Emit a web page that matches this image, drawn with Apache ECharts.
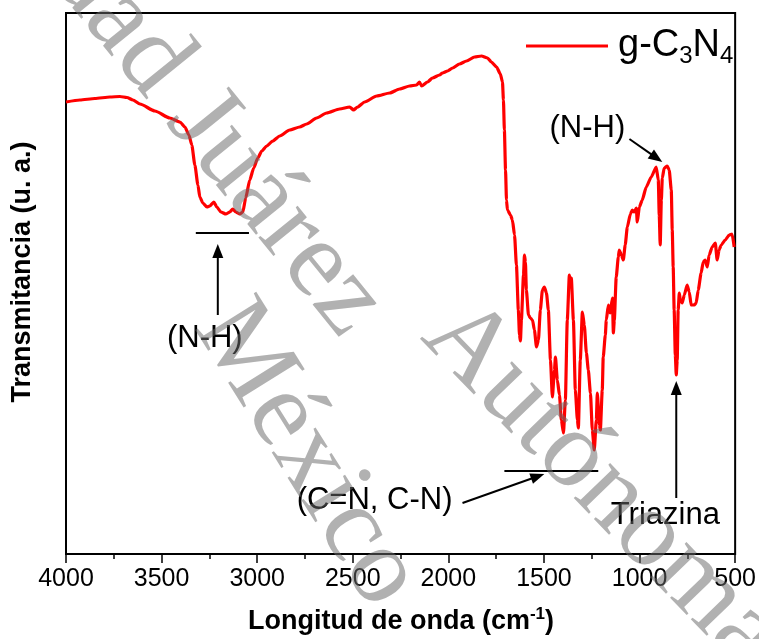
<!DOCTYPE html>
<html>
<head>
<meta charset="utf-8">
<script src="https://cdn.jsdelivr.net/npm/echarts@6/dist/echarts.min.js"></script>
<style>
  html, body { margin: 0; padding: 0; background: #fff; }
  #chart { width: 759px; height: 639px; }
</style>
</head>
<body>
<div id="chart"></div>
<script>
// FTIR spectrum of g-C3N4: wavenumber (cm-1) and transmittance (arbitrary units)
const wavenumber = [
  4000, 3927, 3849, 3770, 3718, 3681, 3650, 3613, 3535, 3457,
  3404, 3378, 3357, 3342, 3326, 3310, 3300, 3284, 3263, 3248,
  3227, 3211, 3190, 3164, 3143, 3128, 3112, 3091, 3075, 3060,
  3039, 3018, 2997, 2976, 2950, 2919, 2882, 2830, 2778, 2741,
  2689, 2637, 2569, 2516, 2496, 2475, 2438, 2375, 2307, 2255,
  2203, 2166, 2151, 2140, 2109, 2083, 2046, 2031, 2004, 1978,
  1942, 1905, 1863, 1827, 1795, 1775, 1748, 1728, 1717, 1712,
  1707, 1701, 1696, 1691, 1675, 1665, 1654, 1644, 1634, 1628,
  1623, 1618, 1607, 1602, 1597, 1592, 1581, 1571, 1560, 1550,
  1539, 1529, 1519, 1508, 1498, 1487, 1477, 1466, 1456, 1445,
  1440, 1430, 1419, 1409, 1398, 1388, 1378, 1367, 1362, 1357,
  1346, 1336, 1325, 1320, 1310, 1299, 1289, 1278, 1268, 1257,
  1247, 1237, 1226, 1221, 1210, 1205, 1195, 1190, 1179, 1174,
  1163, 1158, 1153, 1142, 1137, 1132, 1122, 1111, 1106, 1095,
  1085, 1075, 1064, 1048, 1038, 1028, 1017, 1012, 1001, 986,
  965, 939, 913, 902, 897, 892, 886, 881, 871, 855,
  845, 834, 829, 824, 819, 813, 808, 803, 798, 792,
  787, 777, 766, 751, 740, 730, 714, 704, 693, 678,
  667, 657, 646, 636, 620, 604, 594, 584, 573, 552,
  531, 516, 505
];
const transmittance = [
  452, 454, 455.5, 457, 457.5, 456.5, 454, 450, 443, 436,
  432, 427, 419, 409, 389, 369, 357, 351, 347, 348,
  352, 347, 342, 340, 342, 345, 342, 340, 342, 356,
  374, 386, 396, 403, 408, 413, 418, 424, 427, 430,
  436, 441, 445, 447, 444, 447, 452, 458, 461, 465,
  468, 469, 472, 468, 472, 476, 479, 481, 483, 486,
  490, 493, 497, 498, 496, 492, 487, 480, 472, 454,
  424, 384, 354, 344, 339, 334, 319, 289, 244, 219,
  213, 234, 279, 299, 292, 264, 239, 236, 234, 224,
  207, 214, 244, 264, 267, 261, 244, 194, 157, 184,
  197, 174, 159, 134, 121, 154, 234, 279, 272, 276,
  234, 164, 134, 126, 194, 242, 229, 201, 184, 161,
  124, 104, 134, 161, 129, 124, 164, 197, 219, 234,
  249, 244, 241, 256, 221, 234, 277, 297, 304, 299,
  294, 309, 327, 340, 344, 342, 346, 332, 347, 354,
  367, 377, 387, 374, 339, 309, 354, 376, 386, 388,
  384, 364, 324, 287, 244, 199, 179, 194, 244, 261,
  254, 251, 259, 269, 262, 249, 249, 251, 264, 281,
  292, 294, 287, 299, 307, 311, 294, 304, 309, 314,
  319, 320, 307
];
const xTickValues = [4000, 3500, 3000, 2500, 2000, 1500, 1000, 500];
const seriesName = 'g-C3N4';

// Band assignments (anchors in wavenumber / transmittance units)
const bandBars = [
  [[3321, 321], [3043, 321]],
  [[1707, 83], [1216, 83]]
];
const bandArrows = [
  { from: [3206, 239], to: [3206, 310] },
  { from: [1053, 415], to: [881, 392] },
  { from: [1926, 51], to: [1498, 80] },
  { from: [808, 56], to: [808, 173] }
];
const bandLabels = [
  { text: '(N-H)', at: [3274, 216] },
  { text: '(N-H)', at: [1273, 426] },
  { text: '(C=N, C-N)', at: [2386, 54] },
  { text: 'Triazina', at: [865, 39] }
];

const SANS = '"Liberation Sans", Arial, Helvetica, sans-serif';
const chart = echarts.init(document.getElementById('chart'), null, { renderer: 'canvas' });

const option = {
  animation: false,
  backgroundColor: '#fff',
  grid: {
    left: 66, right: 23, top: 13, bottom: 85,
    show: true, borderColor: '#000', borderWidth: 2, backgroundColor: 'transparent'
  },
  legend: {
    left: 521, top: 22,
    icon: 'rect',
    itemWidth: 82, itemHeight: 3,
    itemGap: 0,
    data: [seriesName],
    formatter: () => '{m|g-C}{s|3}{m|N}{s|4}',
    textStyle: {
      padding: [0, 0, 0, 5],
      rich: {
        m: { fontSize: 38, fontFamily: SANS, color: '#000', lineHeight: 44 },
        s: { fontSize: 24, fontFamily: SANS, color: '#000', lineHeight: 44, verticalAlign: 'bottom' }
      }
    }
  },
  xAxis: {
    type: 'value', inverse: true, min: 500, max: 4000, interval: 500,
    axisLine: { show: true, onZero: false, lineStyle: { color: '#000', width: 2 } },
    axisTick: { show: true, inside: false, length: 9, lineStyle: { color: '#000', width: 1.5 } },
    minorTick: { show: true, splitNumber: 2, length: 5, lineStyle: { color: '#000', width: 1.5 } },
    splitLine: { show: false },
    axisLabel: {
      fontSize: 25, fontFamily: SANS, color: '#000', margin: 13,
      formatter: v => (xTickValues.indexOf(v) >= 0 ? String(v) : '')
    }
  },
  yAxis: {
    type: 'value', min: 0, max: 541,
    axisLine: { show: true, lineStyle: { color: '#000', width: 2 } },
    axisTick: { show: false },
    axisLabel: { show: false },
    splitLine: { show: false }
  },
  series: [{
    name: seriesName,
    type: 'line',
    data: wavenumber.map((w, i) => [w, transmittance[i]]),
    symbol: 'none',
    smooth: 0.2,
    smoothMonotone: 'x',
    lineStyle: { color: '#ff0000', width: 3.2 },
    itemStyle: { color: '#ff0000' },
    silent: true
  }]
};
chart.setOption(option);

const toPx = p => chart.convertToPixel({ gridIndex: 0 }, p);
const graphics = [];

bandBars.forEach(([a, b]) => {
  const p = toPx(a), q = toPx(b);
  graphics.push({ type: 'line', z: 20, shape: { x1: p[0], y1: p[1], x2: q[0], y2: q[1] },
    style: { stroke: '#000', lineWidth: 2 } });
});

bandArrows.forEach(({ from, to }) => {
  const a = toPx(from), b = toPx(to);
  const dx = b[0] - a[0], dy = b[1] - a[1], len = Math.hypot(dx, dy);
  const ux = dx / len, uy = dy / len, nx = -uy, ny = ux;
  const hl = 14, hw = 5.5;
  const bx = b[0] - ux * hl, by = b[1] - uy * hl;
  graphics.push({ type: 'line', z: 20, shape: { x1: a[0], y1: a[1], x2: bx + ux * 2, y2: by + uy * 2 },
    style: { stroke: '#000', lineWidth: 2 } });
  graphics.push({ type: 'polygon', z: 20,
    shape: { points: [[b[0], b[1]], [bx + nx * hw, by + ny * hw], [bx - nx * hw, by - ny * hw]] },
    style: { fill: '#000' } });
});

bandLabels.forEach(({ text, at }) => {
  const p = toPx(at);
  graphics.push({ type: 'text', z: 20, x: p[0], y: p[1],
    style: { text, fontSize: 31, fontFamily: SANS, fill: '#000', align: 'center', verticalAlign: 'middle' } });
});

// Axis titles
graphics.push({
  type: 'text', z: 20, x: 401, y: 622,
  style: {
    text: '{a|Longitud de onda (cm}{b|-1}{a|)}',
    align: 'center', verticalAlign: 'middle',
    rich: {
      a: { fontSize: 27, fontWeight: 'bold', fontFamily: SANS, fill: '#000', lineHeight: 32 },
      b: { fontSize: 17, fontWeight: 'bold', fontFamily: SANS, fill: '#000', lineHeight: 32, verticalAlign: 'top' }
    }
  }
});
graphics.push({
  type: 'text', z: 20, x: 23, y: 272, rotation: Math.PI / 2,
  style: { text: 'Transmitancia (u. a.)', fontSize: 27, fontWeight: 'bold', fontFamily: SANS,
    fill: '#000', align: 'center', verticalAlign: 'middle' }
});

// Repository watermark drawn across the plot
const watermarkLines = [
  { text: 'Universidad Juárez', x: 364, y: 322, angle: 51, align: 'right' },
  { text: 'Autónoma de Tabasco', x: 440, y: 318, angle: 46, align: 'left' },
  { text: 'México', x: 218, y: 312, angle: 58, align: 'left' }
];
watermarkLines.forEach(w => {
  graphics.push({
    type: 'text', z: 100, silent: true, x: w.x, y: w.y, rotation: -w.angle * Math.PI / 180,
    style: { text: w.text, fontSize: 110, fontFamily: '"Liberation Serif", "Times New Roman", serif',
      fill: 'rgba(105,105,105,0.52)', align: w.align, verticalAlign: 'middle' }
  });
});

chart.setOption({ graphic: graphics });
</script>
</body>
</html>
